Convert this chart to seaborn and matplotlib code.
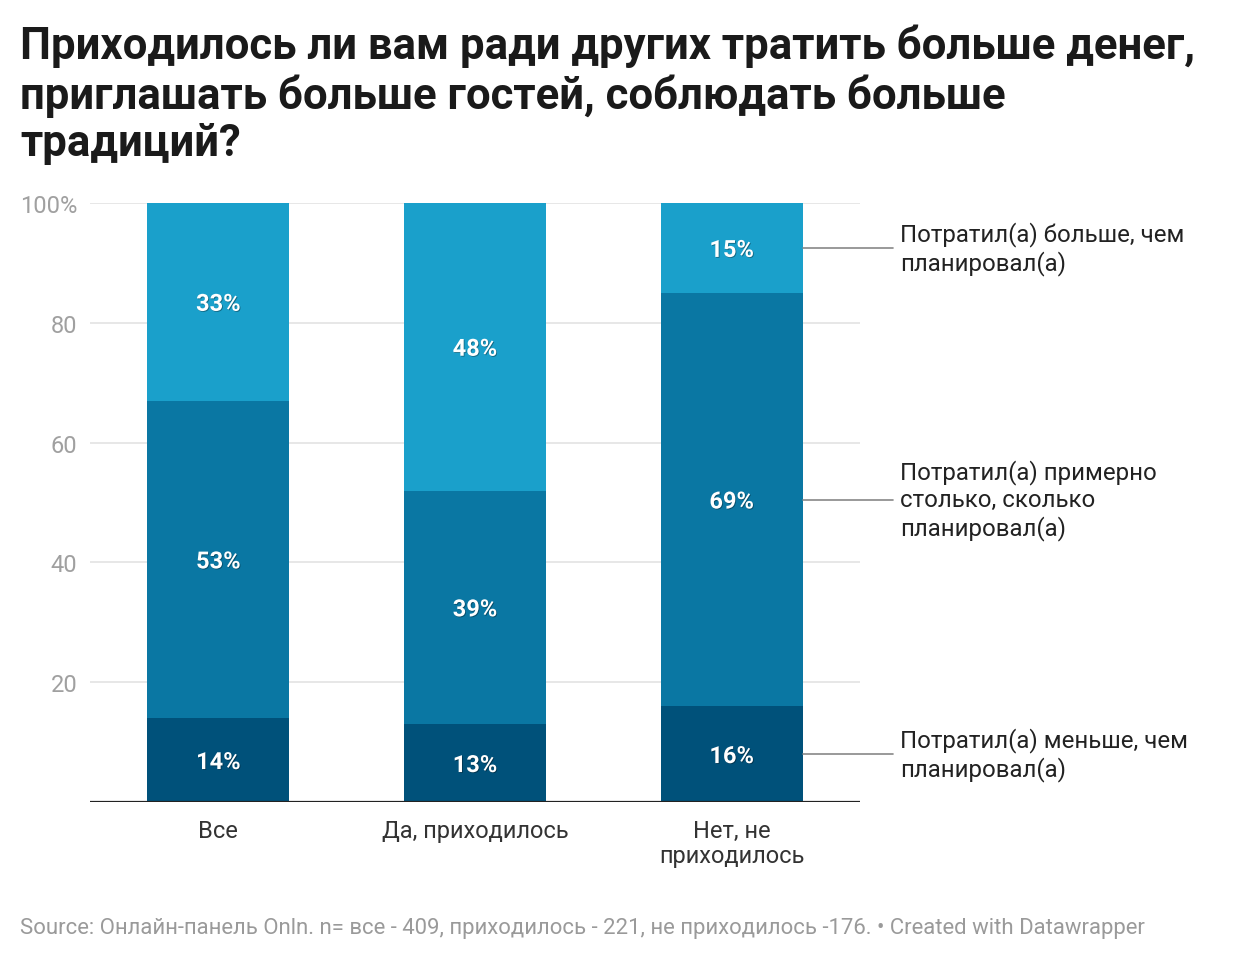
import matplotlib
matplotlib.use('Agg')
import matplotlib.pyplot as plt
import matplotlib.patheffects as pe
import seaborn as sns
import pandas as pd

# data
groups = ['Все', 'Да, приходилось', 'Нет, не\nприходилось']
less = [14, 13, 16]
same = [53, 39, 69]
more = [33, 48, 15]
series_names = ['Потратил(а) меньше, чем\nпланировал(а)',
                'Потратил(а) примерно\nстолько, сколько\nпланировал(а)',
                'Потратил(а) больше, чем\nпланировал(а)']
colors = ['#00517a', '#0a77a3', '#1aa0cb']

df = pd.DataFrame({'group': groups, 'less': less, 'same': same, 'more': more})
df['lvl1'] = df['less']
df['lvl2'] = df['less'] + df['same']
df['lvl3'] = df['less'] + df['same'] + df['more']

sns.set_style('white')
plt.rcParams['font.family'] = ['Roboto', 'DejaVu Sans']

fig = plt.figure(figsize=(12.4, 9.62), dpi=100)
ax = fig.add_axes([90/1240, 1-803/962, 770/1240, 599/962])

bw = 0.553
# stacked by overlapping cumulative totals
for col, c in zip(['lvl3', 'lvl2', 'lvl1'], colors[::-1]):
    sns.barplot(data=df, x='group', y=col, color=c, saturation=1, width=bw,
                linewidth=0, edgecolor='none', ax=ax, zorder=3)

ax.set_xlim(-0.5, 2.5)
ax.set_ylim(0, 100)
for s in ax.spines.values():
    s.set_visible(False)
ax.set_xlabel('')
ax.set_ylabel('')

for y in [20, 40, 60, 80, 100]:
    ax.axhline(y, color='#e3e3e3', lw=1.2, zorder=1)
ax.axhline(0, color='#222222', lw=1.6, zorder=4)

ax.set_yticks([20, 40, 60, 80, 100])
ax.set_yticklabels(['20', '40', '60', '80', '100%'])
ax.tick_params(axis='y', length=0, pad=9, labelsize=17, labelcolor='#a0a0a0')
ax.tick_params(axis='x', length=0, pad=12, labelsize=17, labelcolor='#333333')
for lab in ax.get_xticklabels():
    lab.set_linespacing(1.15)

shadow = [pe.withSimplePatchShadow(offset=(0.6, -0.6), shadow_rgbFace='black', alpha=0.35)]
for i in range(len(groups)):
    segs = [(0, less[i]), (less[i], same[i]), (less[i] + same[i], more[i])]
    for b, h in segs:
        ax.text(i, b + h / 2, f'{h}%', ha='center', va='center_baseline', color='white',
                fontsize=17, fontweight='bold', zorder=6, path_effects=shadow)

# right-side labels for the last bar
last = len(groups) - 1
mids = [less[last] / 2, less[last] + same[last] / 2, less[last] + same[last] + more[last] / 2]
for name, m in zip(series_names, mids):
    ax.plot([last + bw / 2, 2.628], [m, m], color='#888888', lw=1.2, clip_on=False, zorder=5)
    ax.text(2.656, m, name, ha='left', va='center', fontsize=17.3, color='#222222',
            linespacing=1.2, clip_on=False)

fig.text(20/1240, 1 - 25/962,
         'Приходилось ли вам ради других тратить больше денег,\nприглашать больше гостей, соблюдать больше\nтрадиций?',
         ha='left', va='top', fontsize=31.5, fontweight='bold', color='#1a1a1a', linespacing=1.16)

fig.text(20/1240, 1 - 929/962,
         'Source: Онлайн-панель Onln. n= все - 409, приходилось - 221, не приходилось -176. • Created with Datawrapper',
         ha='left', va='center', fontsize=15.9, color='#9a9a9a')

fig.savefig('out.png', dpi=100, facecolor='white')
